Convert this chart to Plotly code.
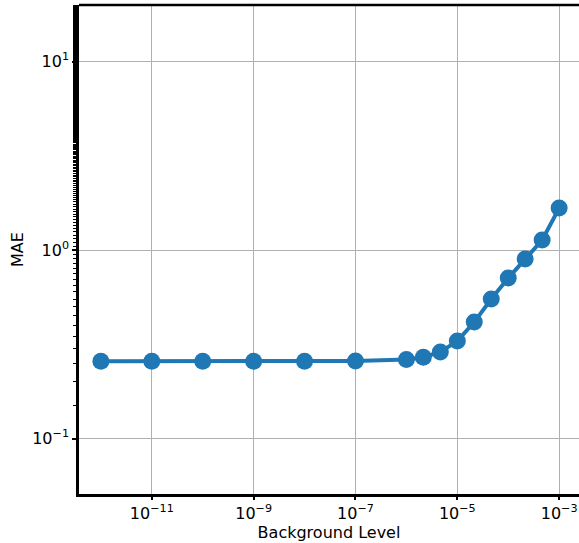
import plotly.graph_objects as go

bg_level = [1e-12, 1e-11, 1e-10, 1e-9, 1e-8, 1e-7,
            1e-6, 2.15e-6, 4.64e-6, 1e-5, 2.15e-5, 4.64e-5, 1e-4, 2.15e-4, 4.64e-4, 1e-3]
mae = [0.257, 0.257, 0.257, 0.257, 0.257, 0.258,
       0.263, 0.270, 0.288, 0.329, 0.415, 0.55, 0.71, 0.896, 1.13, 1.67]

x_tickvals = [1e-11, 1e-9, 1e-7, 1e-5, 1e-3]
x_ticktext = ["10<sup>\u221211</sup>", "10<sup>\u22129</sup>", "10<sup>\u22127</sup>",
              "10<sup>\u22125</sup>", "10<sup>\u22123</sup>"]
y_tickvals = [0.1, 1, 10]
y_ticktext = ["10<sup>\u22121</sup>", "10<sup>0</sup>", "10<sup>1</sup>"]

fig = go.Figure()
fig.add_trace(go.Scatter(
    x=bg_level, y=mae, mode="lines+markers",
    line=dict(color="#1f77b4", width=4),
    marker=dict(color="#1f77b4", size=17),
    showlegend=False,
))

fig.update_layout(
    width=579, height=543,
    margin=dict(l=79, r=0, t=5, b=49),
    paper_bgcolor="white", plot_bgcolor="white",
    font=dict(family="DejaVu Sans", size=16, color="black"),
    xaxis=dict(
        type="log", range=[-12.43, -2.61],
        tickvals=x_tickvals, ticktext=x_ticktext,
        showgrid=True, gridcolor="#b0b0b0", gridwidth=1,
        showline=True, linecolor="black", linewidth=2.5,
        ticks="outside", ticklen=3, tickwidth=1.5, tickcolor="black",
        zeroline=False,
        title=dict(text="Background Level", font=dict(size=16), standoff=0),
    ),
    yaxis=dict(
        type="log", range=[-1.294, 1.30],
        tickvals=y_tickvals, ticktext=y_ticktext,
        showgrid=True, gridcolor="#b0b0b0", gridwidth=1,
        showline=True, linecolor="black", linewidth=2.5,
        ticks="outside", ticklen=4, tickwidth=1.5, tickcolor="black",
        minor=dict(ticks="outside", ticklen=3, tickwidth=1, tickcolor="black", showgrid=False),
        zeroline=False,
        title=dict(text="MAE", font=dict(size=16), standoff=5),
    ),
    shapes=[dict(type="line", xref="paper", yref="paper", x0=0, x1=1, y0=1, y1=1,
                 line=dict(color="black", width=2.5))],
)

fig.write_html("out.html", config={"displayModeBar": False},
               post_script="document.body.style.margin='0';document.body.style.overflow='hidden';")
